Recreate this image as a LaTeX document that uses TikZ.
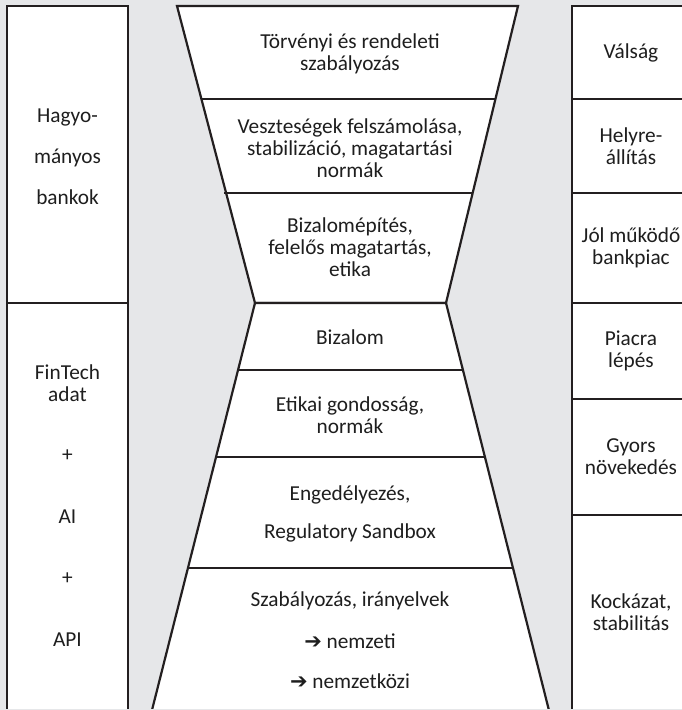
\documentclass[tikz,border=0pt]{standalone}
\usepackage{fontspec}
\setmainfont{Carlito}
\newfontfamily\arrowfont{DejaVu Sans}
\definecolor{bggray}{RGB}{230,231,233}
\definecolor{ink}{RGB}{35,31,32}
\definecolor{txt}{RGB}{30,30,30}
\newcommand{\heavyarrow}{{\arrowfont\fontsize{21}{21}\selectfont ➔}}
\begin{document}
\begin{tikzpicture}[x=1pt,y=-1pt,
  shape line/.style={draw=ink,line width=2.2pt,fill=white,line join=miter},
  divider/.style={draw=ink,line width=2.2pt},
  label text/.style={text=txt,align=center,font=\fontsize{21.3}{22}\selectfont,inner sep=0pt},
  wide text/.style={label text,font=\fontsize{21.3}{41}\selectfont}]
\fill[bggray] (0,0) rectangle (682,710);
\useasboundingbox (0,0) rectangle (682,710);
% left column
\draw[shape line] (7,6) rectangle (128,303);
\draw[shape line] (7,303) rectangle (128,716);
% right column
\draw[shape line] (572,6) rectangle (692,99);
\draw[shape line] (572,99) rectangle (692,193);
\draw[shape line] (572,193) rectangle (692,303);
\draw[shape line] (572,303) rectangle (692,399);
\draw[shape line] (572,399) rectangle (692,515);
\draw[shape line] (572,515) rectangle (692,716);
% funnel top (inverted trapezoid)
\draw[shape line] (177,6) -- (518,6) -- (446,303) -- (255,303) -- cycle;
\draw[divider] (201.2,99) -- (495.2,99);
\draw[divider] (224.0,193) -- (472.4,193);
% funnel bottom (trapezoid)
\draw[shape line] (255,303) -- (446,303) -- (550.4,716) -- (150.5,716) -- cycle;
\draw[divider] (237.9,370) -- (462.9,370);
\draw[divider] (215.6,457) -- (484.9,457);
\draw[divider] (186.8,568) -- (513.3,568);
\draw[bggray,line width=1pt] (0,709.5) -- (682,709.5);
% left texts
\node[wide text] (hagyo) at (67.5,157) {Hagyo-\\mányos\\bankok};
\node[label text] (fintech) at (67.5,383) {FinTech\\adat};
\node[label text] (plus1) at (67.5,456) {+};
\node[label text] (ai) at (67.5,517) {AI};
\node[label text] (plus2) at (67.5,579) {+};
\node[label text] (api) at (67.5,640) {API};
% right texts
\node[label text] (valsag) at (631,53) {Válság};
\node[label text] (helyre) at (631,146) {Helyre-\\állítás};
\node[label text] (jol) at (631,248) {Jól működő\\bankpiac};
\node[label text] (piacra) at (631,351) {Piacra\\lépés};
\node[label text] (gyors) at (631,457) {Gyors\\növekedés};
\node[label text] (kock) at (631,612) {Kockázat,\\stabilitás};
% funnel texts
\node[label text] (t1) at (350,54) {Törvényi és rendeleti\\szabályozás};
\node[label text] (t2) at (350,148) {Veszteségek felszámolása,\\stabilizáció, magatartási\\normák};
\node[label text] (t3) at (350,247) {Bizalomépítés,\\felelős magatartás,\\etika};
\node[label text] (b1) at (350,337) {Bizalom};
\node[label text] (b2) at (350,415) {Etikai gondosság,\\normák};
\node[label text,font=\fontsize{21.3}{38}\selectfont] (b3) at (350,514) {Engedélyezés,\\Regulatory Sandbox};
\node[label text] (b4a) at (350,601) {Szabályozás, irányelvek};
\node[label text] (b4b) at (350,641) {\heavyarrow{} nemzeti};
\node[label text] (b4c) at (350,681) {\heavyarrow{} nemzetközi};
\end{tikzpicture}
\end{document}
